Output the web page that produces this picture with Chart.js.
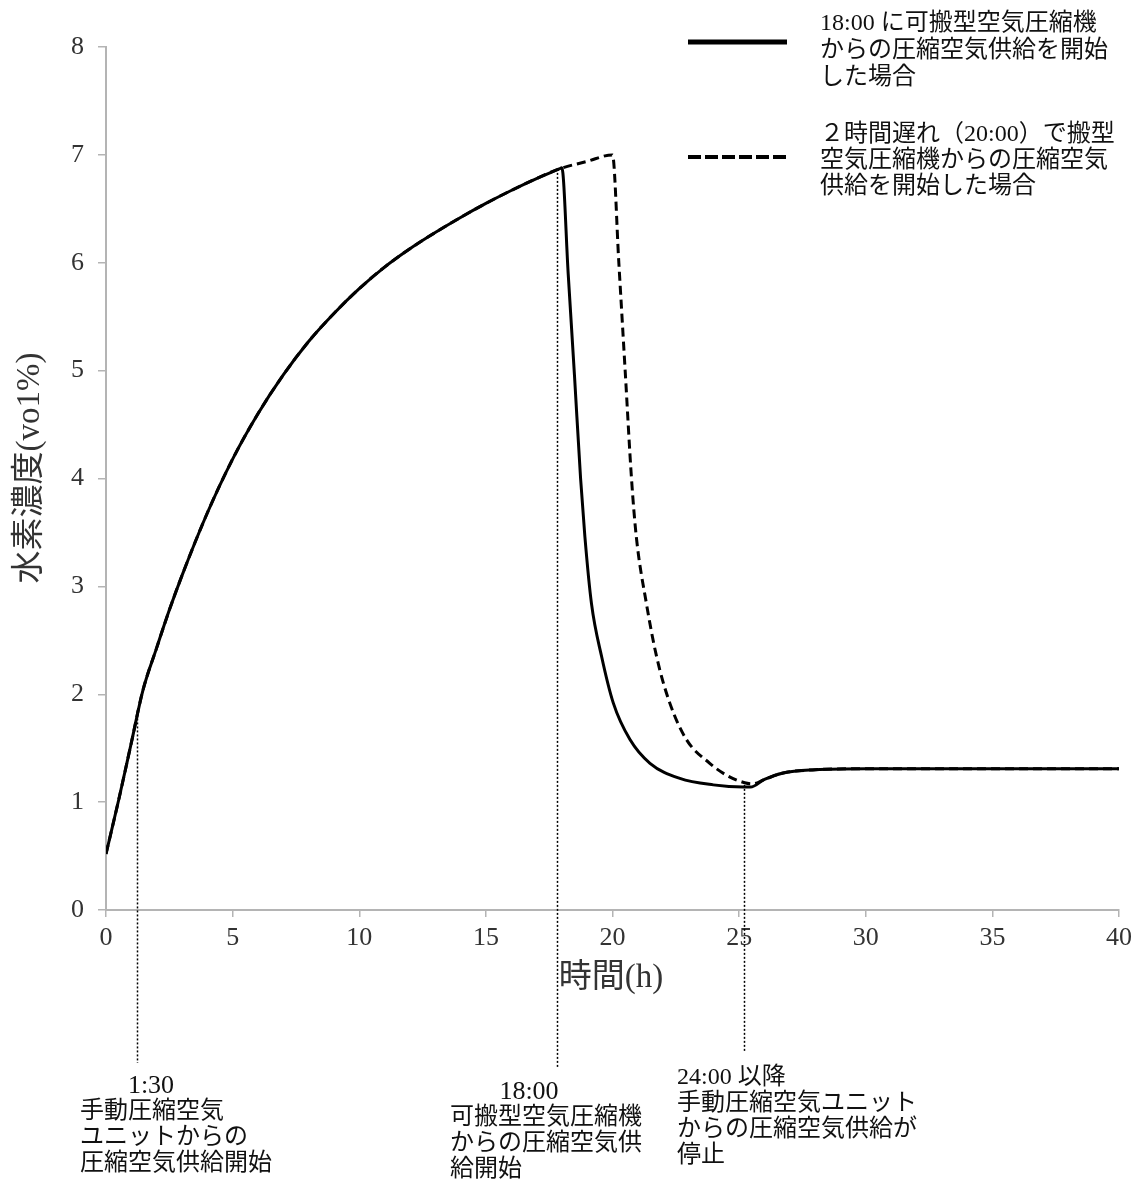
<!DOCTYPE html>
<html>
<head>
<meta charset="utf-8">
<script src="https://cdn.jsdelivr.net/npm/chart.js@4"></script>
<style>
  body { margin: 0; background: #fff; }
  #wrap { width: 1143px; height: 1182px; }
</style>
</head>
<body>
<div id="wrap"><canvas id="h2Chart" width="1143" height="1182"></canvas></div>
<script>
// time (h) and hydrogen concentration (vol%)
const solidTimes = [0, 0.5, 1.0, 1.45, 2.0, 2.5, 3.0, 4.0, 5.0, 6.0, 7.0, 8.0, 9.0, 10.0, 11.0, 12.0, 13.0, 14.0, 15.0, 16.0, 17.0, 17.9, 18.0,
    18.25, 18.5, 18.74, 18.91, 19.17, 19.57, 20.03, 20.69, 21.48, 22.66, 23.98, 25.16, 25.45, 26.0, 26.74, 28.0, 30, 35, 40];
const solidValues = [0.52, 1.02, 1.55, 2.03, 2.43, 2.78, 3.10, 3.68, 4.18, 4.60, 4.96, 5.27, 5.53, 5.76, 5.96, 6.13, 6.28, 6.42, 6.55, 6.67, 6.78, 6.87, 6.88,
    5.90, 4.95, 4.00, 3.46, 2.84, 2.35, 1.92, 1.58, 1.36, 1.22, 1.16, 1.14, 1.14, 1.21, 1.27, 1.30, 1.31, 1.31, 1.31];

const delayedTimes = [0, 0.5, 1.0, 1.45, 2.0, 2.5, 3.0, 4.0, 5.0, 6.0, 7.0, 8.0, 9.0, 10.0, 11.0, 12.0, 13.0, 14.0, 15.0, 16.0, 17.0, 17.9, 19.0, 20.0,
    20.25, 20.5, 20.75, 20.94, 21.34, 21.74, 22.26, 22.92, 23.84, 24.5, 25.22, 25.55, 26.0, 26.74, 28.0, 30, 35, 40];
const delayedValues = [0.52, 1.02, 1.55, 2.03, 2.43, 2.78, 3.10, 3.68, 4.18, 4.60, 4.96, 5.27, 5.53, 5.76, 5.96, 6.13, 6.28, 6.42, 6.55, 6.67, 6.78, 6.87, 6.94, 7.00,
    6.00, 5.00, 4.00, 3.46, 2.84, 2.35, 1.92, 1.58, 1.36, 1.25, 1.18, 1.17, 1.21, 1.27, 1.30, 1.31, 1.31, 1.31];

// event markers (dotted lines)
const markerTimes = [1.22, 17.8, 25.2];
const markerTops = [1.85, 6.87, 1.16];

const xTicks = [0, 5, 10, 15, 20, 25, 30, 35, 40];
const yTicks = [0, 1, 2, 3, 4, 5, 6, 7, 8];

const seriesLabels = [
    ['18:00 に可搬型空気圧縮機', 'からの圧縮空気供給を開始', 'した場合'],
    ['２時間遅れ（20:00）で搬型', '空気圧縮機からの圧縮空気', '供給を開始した場合']
];
const markerNotes = [
    ['1:30', '手動圧縮空気', 'ユニットからの', '圧縮空気供給開始'],
    ['18:00', '可搬型空気圧縮機', 'からの圧縮空気供', '給開始'],
    ['24:00 以降', '手動圧縮空気ユニット', 'からの圧縮空気供給が', '停止']
];

const FONT = '"Liberation Serif", "Noto Sans CJK JP", serif';
const AXIS_GREY = '#b4b4b4';

const toPoints = (xs, ys) => xs.map((x, i) => ({ x: x, y: ys[i] }));

const annotations = {
    id: 'annotations',
    beforeDatasetsDraw(chart) {
        const { ctx, scales: { x, y } } = chart;
        const bottoms = [1063, 1068, 1052];
        ctx.save();
        ctx.strokeStyle = '#000';
        ctx.lineWidth = 1.5;
        ctx.setLineDash([2, 2]);
        markerTimes.forEach((t, i) => {
            const px = Math.round(x.getPixelForValue(t)) + 0.5;
            ctx.beginPath();
            ctx.moveTo(px, y.getPixelForValue(markerTops[i]));
            ctx.lineTo(px, bottoms[i]);
            ctx.stroke();
        });
        ctx.restore();
    },
    afterDraw(chart) {
        const { ctx } = chart;
        ctx.save();
        ctx.fillStyle = '#111';
        ctx.textBaseline = 'middle';

        // legend
        ctx.strokeStyle = '#000';
        ctx.lineWidth = 5;
        ctx.beginPath();
        ctx.moveTo(688, 42);
        ctx.lineTo(787, 42);
        ctx.stroke();
        ctx.lineWidth = 4;
        ctx.setLineDash([13, 4]);
        ctx.beginPath();
        ctx.moveTo(688, 157);
        ctx.lineTo(787, 157);
        ctx.stroke();
        ctx.setLineDash([]);

        ctx.font = '24px ' + FONT;
        ctx.textAlign = 'left';
        seriesLabels[0].forEach((s, i) => ctx.fillText(s, 820, 24 + i * 27));
        seriesLabels[1].forEach((s, i) => ctx.fillText(s, 820, 135 + i * 26));

        // notes under the axis
        const noteX = [80, 450, 677];
        const noteY = [1086, 1092, 1078];
        markerNotes.forEach((lines, k) => {
            lines.forEach((s, i) => {
                if (i === 0 && k < 2) {
                    ctx.font = '26px ' + FONT;
                    ctx.textAlign = 'center';
                    ctx.fillText(s, k === 0 ? 151 : 529, noteY[k]);
                } else {
                    ctx.font = '24px ' + FONT;
                    ctx.textAlign = 'left';
                    ctx.fillText(s, noteX[k], noteY[k] + i * 26);
                }
            });
        });

        // axis titles
        ctx.font = '33px ' + FONT;
        ctx.fillStyle = '#333';
        ctx.textAlign = 'center';
        ctx.fillText('時間(h)', 611, 978);
        ctx.translate(30, 468);
        ctx.rotate(-Math.PI / 2);
        ctx.fillText('水素濃度(vo1%)', 0, 0);
        ctx.restore();
    }
};

new Chart(document.getElementById('h2Chart'), {
    type: 'scatter',
    data: {
        datasets: [
            {
                label: seriesLabels[0].join(''),
                data: toPoints(solidTimes, solidValues),
                showLine: true,
                borderColor: '#000',
                borderWidth: 3,
                pointRadius: 0,
                cubicInterpolationMode: 'monotone'
            },
            {
                label: seriesLabels[1].join(''),
                data: toPoints(delayedTimes, delayedValues),
                showLine: true,
                borderColor: '#000',
                borderWidth: 3,
                borderDash: [9, 5],
                pointRadius: 0,
                cubicInterpolationMode: 'monotone'
            }
        ]
    },
    options: {
        responsive: false,
        animation: false,
        layout: { padding: { left: 0, top: 47, right: 24, bottom: 212 } },
        plugins: { legend: { display: false }, tooltip: { enabled: false } },
        scales: {
            x: {
                type: 'linear',
                min: 0,
                max: 40,
                afterBuildTicks: s => { s.ticks = xTicks.map(v => ({ value: v })); },
                afterFit: s => { s.height = 60; },
                grid: { drawOnChartArea: false, drawTicks: true, tickLength: 7, color: AXIS_GREY, lineWidth: 1.5 },
                border: { color: AXIS_GREY, width: 2 },
                ticks: { color: '#333', font: { family: FONT, size: 26 }, padding: 6, maxRotation: 0 }
            },
            y: {
                min: 0,
                max: 8,
                afterBuildTicks: s => { s.ticks = yTicks.map(v => ({ value: v })); },
                afterFit: s => { s.width = 106; },
                grid: { drawOnChartArea: false, drawTicks: true, tickLength: 8, color: AXIS_GREY, lineWidth: 1.5 },
                border: { color: AXIS_GREY, width: 2 },
                ticks: { color: '#333', font: { family: FONT, size: 26 }, padding: 14 }
            }
        }
    },
    plugins: [annotations]
});
</script>
</body>
</html>
